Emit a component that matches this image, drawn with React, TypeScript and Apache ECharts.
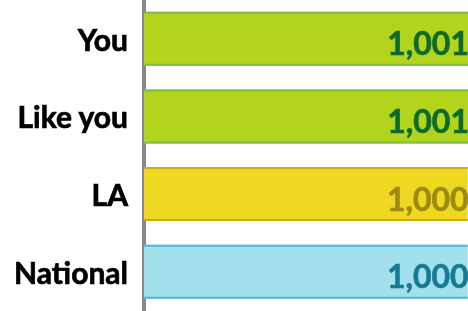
import React, { useEffect, useRef } from "react";
import * as echarts from "echarts";

const categories = ["You", "Like you", "LA", "National"];
const values = [1001, 1001, 1000, 1000];
const valueLabels = ["1,001", "1,001", "1,000", "1,000"];
const fillColors = ["#b2d41c", "#b2d41c", "#eed821", "#a1e0ec"];
const borderColors = ["#80bd45", "#80bd45", "#c9ac12", "#55b6cf"];
const textColors = ["#0c6b2c", "#0c6b2c", "#9c8a12", "#177a93"];

const FONT = "Lato, 'Open Sans', sans-serif";

export default function App() {
  const ref = useRef<HTMLDivElement>(null);
  useEffect(() => {
    if (!ref.current) return;
    const chart = echarts.init(ref.current, null, { renderer: "svg" });
    chart.setOption({
      animation: false,
      grid: { left: 144, right: -4, top: -2.5, bottom: 0.5, containLabel: false },
      xAxis: {
        type: "value",
        min: 0,
        max: 1001,
        show: false,
      },
      yAxis: {
        type: "category",
        data: categories,
        inverse: true,
        offset: 3,
        axisLine: { show: true, lineStyle: { color: "#888888", width: 4 } },
        axisTick: { show: false },
        axisLabel: {
          margin: 13,
          color: "#000000",
          fontFamily: FONT,
          fontWeight: "bold",
          fontSize: 30,
          textBorderColor: "#000000",
          textBorderWidth: 0.7,
        },
        splitLine: { show: false },
      },
      series: [
        {
          type: "custom",
          data: values.map((v, i) => [v, i]),
          renderItem: (params: any, api: any) => {
            const idx = api.value(1);
            const start = api.coord([0, idx]);
            const end = api.coord([api.value(0), idx]);
            const h = 54;
            const x0 = start[0];
            const x1 = end[0];
            const yTop = start[1] - h / 2;
            return {
              type: "group",
              children: [
                {
                  type: "rect",
                  shape: { x: x0, y: yTop, width: x1 - x0, height: h },
                  style: { fill: fillColors[idx], stroke: null, lineWidth: 0 },
                },
                {
                  type: "rect",
                  shape: { x: x0, y: yTop, width: x1 - x0, height: 2 },
                  style: { fill: borderColors[idx], stroke: null, lineWidth: 0 },
                },
                {
                  type: "rect",
                  shape: { x: x0, y: yTop + h - 2, width: x1 - x0, height: 2 },
                  style: { fill: borderColors[idx], stroke: null, lineWidth: 0 },
                },
                {
                  type: "text",
                  x: x1 + 1,
                  y: start[1] + 4,
                  style: {
                    text: valueLabels[idx],
                    fill: textColors[idx],
                    font: `bold 32px ${FONT}`,
                    align: "right",
                    verticalAlign: "middle",
                    stroke: textColors[idx],
                    lineWidth: 0.6,
                  },
                },
              ],
            };
          },
        },
      ],
    });
    return () => chart.dispose();
  }, []);
  return <div ref={ref} style={{ width: 468, height: 311, position: "fixed", left: 0, top: 0 }} />;
}
